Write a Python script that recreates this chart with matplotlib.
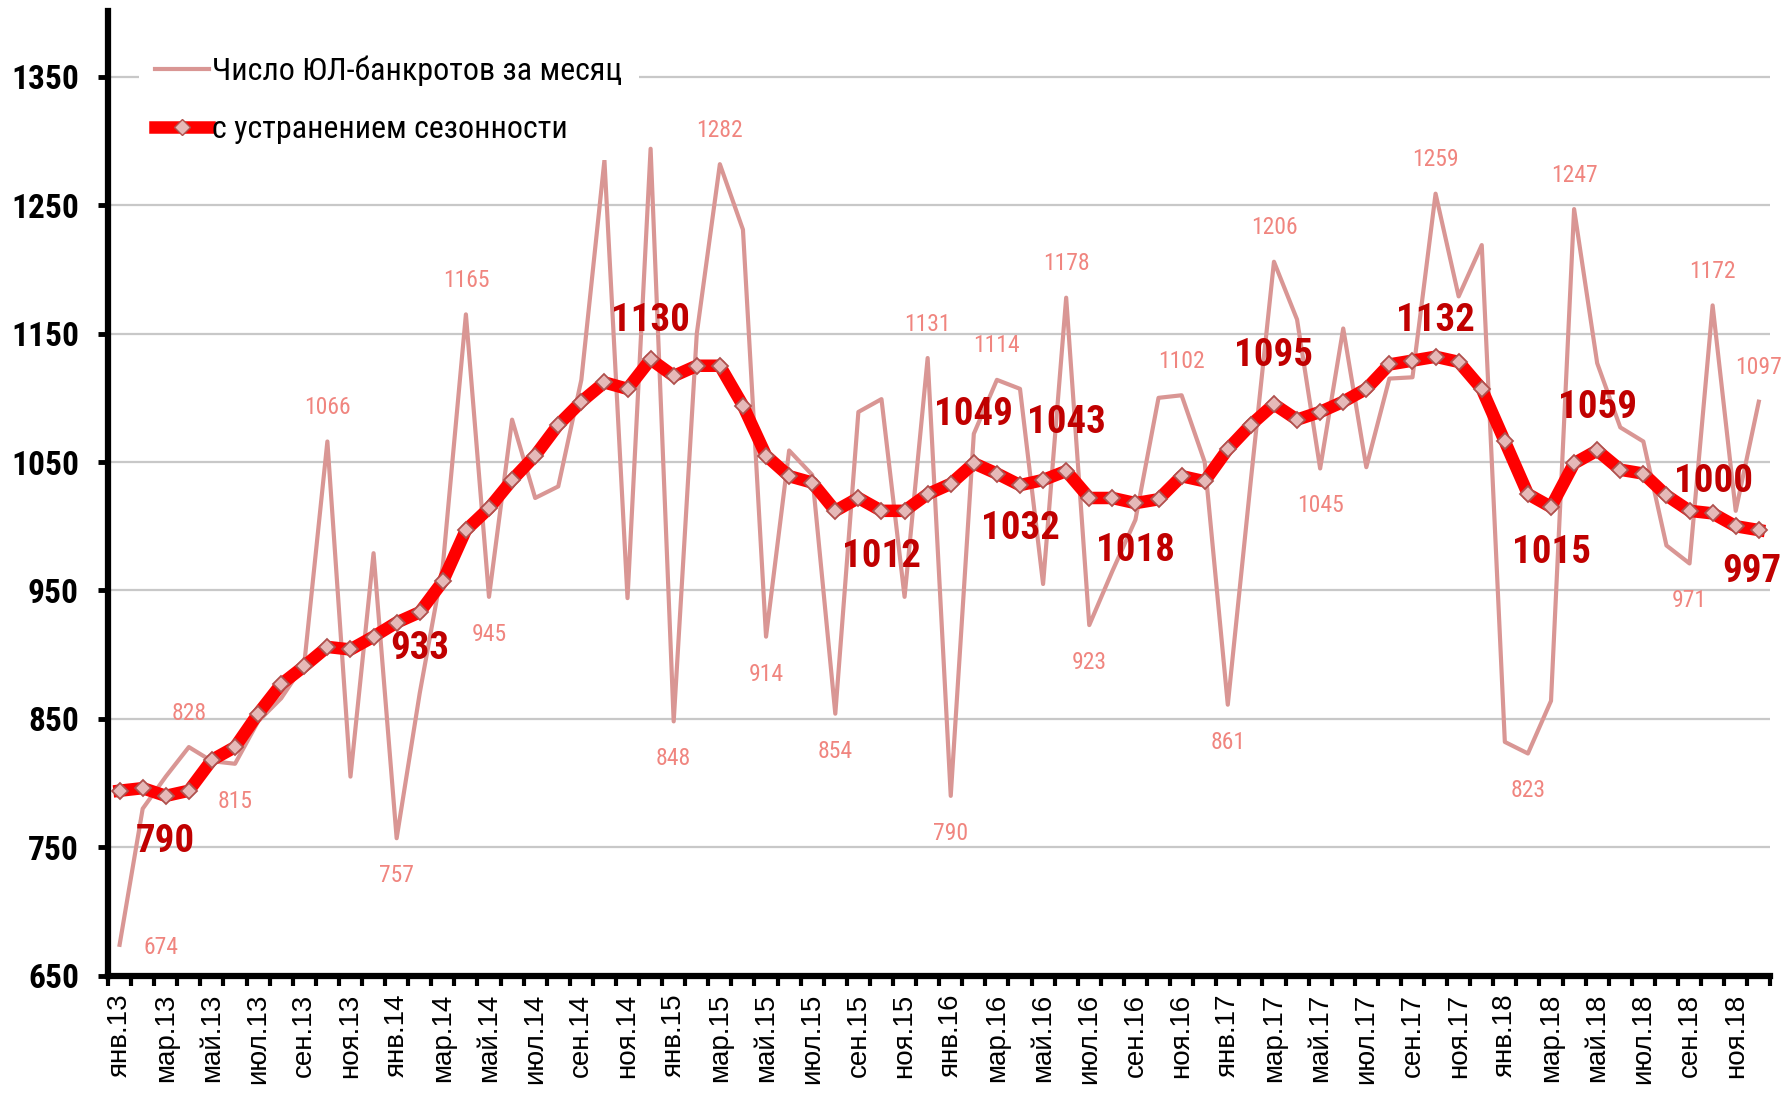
import numpy as np
import matplotlib
matplotlib.use("Agg")
import matplotlib.pyplot as plt
from matplotlib import font_manager
from matplotlib.lines import Line2D

# categories
months = ["янв", "фев", "мар", "апр", "май", "июн", "июл", "авг", "сен", "окт", "ноя", "дек"]
years = ["13", "14", "15", "16", "17", "18"]
labels = [f"{m}.{y}" for y in years for m in months]

# number of bankrupt companies per month
raw = [674, 780, 805, 828, 817, 815, 848, 866, 893, 1066, 805, 979,
       757, 870, 969, 1165, 945, 1083, 1022, 1031, 1114, 1285, 944, 1294,
       848, 1150, 1282, 1231, 914, 1059, 1040, 854, 1089, 1099, 945, 1131,
       790, 1072, 1114, 1107, 955, 1178, 923, 965, 1005, 1100, 1102, 1050,
       861, 1036, 1206, 1161, 1045, 1154, 1046, 1115, 1116, 1259, 1179, 1219,
       832, 823, 864, 1247, 1127, 1077, 1066, 985, 971, 1172, 1012, 1097]

# seasonally adjusted
sa = [794, 796, 790, 794, 818, 828, 854, 877, 891, 906, 904, 914,
      925, 933, 957, 997, 1014, 1036, 1055, 1079, 1097, 1112, 1107, 1130,
      1117, 1125, 1125, 1094, 1055, 1039, 1034, 1012, 1022, 1012, 1012, 1025,
      1033, 1049, 1041, 1032, 1036, 1043, 1022, 1022, 1018, 1021, 1039, 1035,
      1060, 1079, 1095, 1083, 1089, 1097, 1107, 1126, 1129, 1132, 1128, 1107,
      1066, 1025, 1015, 1049, 1059, 1044, 1041, 1024, 1012, 1010, 1000, 997]

raw_above = [3, 9, 15, 26, 35, 38, 41, 46, 50, 57, 63, 69, 71]
raw_below = [5, 12, 16, 24, 28, 31, 36, 42, 48, 52, 61, 68]

# label offsets (points) for the seasonally adjusted series
sa_offsets = {2: (0, -33), 13: (0, -26), 23: (0, 28), 33: (0, -33),
              37: (0, 35), 39: (0, -31), 41: (0, 35), 44: (0, -34),
              50: (0, 35), 57: (0, 26), 62: (0, -33), 64: (0, 31),
              70: (-16, 32), 71: (-5, -30)}

names = {f.name for f in font_manager.fontManager.ttflist}
narrow = "Liberation Sans"
for cand in ["Liberation Sans Narrow", "Arial Narrow", "Roboto Condensed"]:
    if cand in names:
        narrow = cand
        break
plt.rcParams["font.family"] = ["Liberation Sans", "DejaVu Sans"]

pink = "#D99694"
pink_txt = "#F0857F"
dark_red = "#C00000"
red = "#FF0000"

fig = plt.figure(figsize=(17.83, 10.93), dpi=100)
ax = fig.add_axes([0.0606, 0.1074, 0.9323, 0.8822])

x = np.arange(len(raw))
ax.plot(x, raw, color=pink, lw=3, zorder=2)
ax.plot(x, sa, color=red, lw=9, zorder=3, marker="D", markersize=8,
        markerfacecolor="#E6B9B8", markeredgecolor="#B0504D", markeredgewidth=1.3)

for i in raw_above:
    ax.annotate(str(raw[i]), (x[i], raw[i]), xytext=(0, 24.5), textcoords="offset points",
                ha="center", va="center", fontsize=17, family=narrow, color=pink_txt, zorder=4)
for i in raw_below:
    ax.annotate(str(raw[i]), (x[i], raw[i]), xytext=(0, -27), textcoords="offset points",
                ha="center", va="center", fontsize=17, family=narrow, color=pink_txt, zorder=4)
ax.annotate(str(raw[0]), (x[0], raw[0]), xytext=(30, -2), textcoords="offset points",
            ha="center", va="center", fontsize=17, family=narrow, color=pink_txt, zorder=4)

for i, (dx, dy) in sa_offsets.items():
    ax.annotate(str(sa[i]), (x[i], sa[i]), xytext=(dx, dy), textcoords="offset points",
                ha="center", va="center", fontsize=28, family=narrow, fontweight="bold",
                color=dark_red, zorder=4)

ax.set_xlim(-0.5, len(raw) - 0.5)
ax.set_ylim(650, 1401)
ax.set_yticks(np.arange(650, 1351, 100))
ax.yaxis.grid(True, color="#C8C8C8", lw=1.6)
ax.set_axisbelow(True)

ax.set_xticks(x[::2])
ax.set_xticklabels(labels[::2], rotation=90, va="top", ha="center", fontsize=20)
ax.set_xticks(np.arange(-0.5, len(raw)), minor=True)
ax.tick_params(axis="x", which="major", length=0, pad=13)
ax.tick_params(axis="x", which="minor", length=7, width=3, direction="out")
ax.tick_params(axis="y", length=7, width=3.5, pad=14)
for t in ax.get_yticklabels():
    t.set_family(narrow)
    t.set_fontweight("bold")
    t.set_fontsize(24)

for s in ["top", "right"]:
    ax.spines[s].set_visible(False)
for s in ["left", "bottom"]:
    ax.spines[s].set_linewidth(4.5)

handles = [Line2D([], [], color=pink, lw=3),
           Line2D([], [], color=red, lw=9, marker="D", markersize=8,
                  markerfacecolor="#E6B9B8", markeredgecolor="#B0504D")]
leg = ax.legend(handles, ["Число ЮЛ-банкротов за месяц", "с устранением сезонности"],
                loc="upper left", bbox_to_anchor=(0.009, 0.987), frameon=True,
                facecolor="white", edgecolor="none", framealpha=1, fancybox=False,
                handlelength=1.7, handletextpad=0.1, labelspacing=0.9,
                prop={"family": narrow, "size": 23}, borderpad=0.5)
leg.set_zorder(5)

fig.savefig("out.png", dpi=100)
